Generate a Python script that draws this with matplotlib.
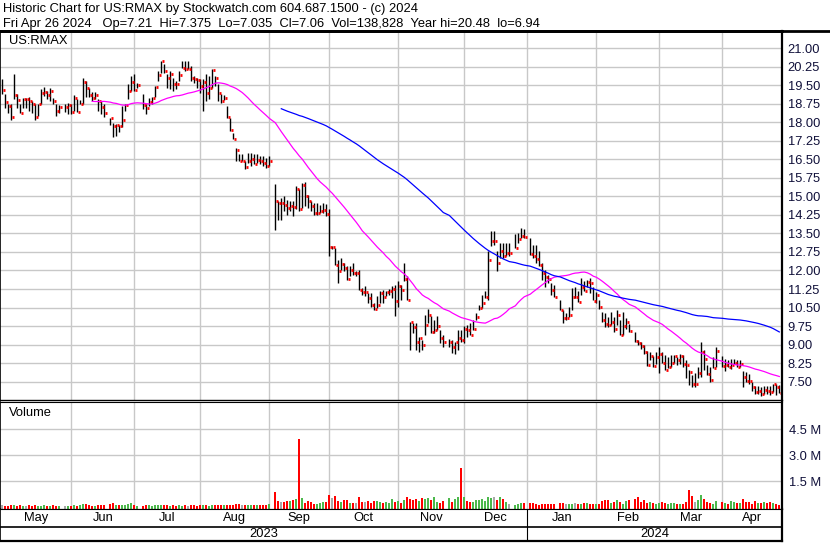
import numpy as np
import pandas as pd
import matplotlib
matplotlib.use("Agg")
import matplotlib.pyplot as plt
from matplotlib.lines import Line2D

plt.rcParams['font.family'] = ['Liberation Sans', 'DejaVu Sans']

# US market holidays inside the range (the chart leaves an empty slot for them)
holidays = ['2023-05-29', '2023-06-19', '2023-07-04', '2023-09-04', '2023-11-23',
            '2023-12-25', '2024-01-01', '2024-01-15', '2024-02-19', '2024-03-29']

# daily bars, one line per month (May 2023 .. Apr 2024)
high = [
    19.74, 19.16, 18.72, 18.72, 19.94, 19.13, 18.72, 18.99, 18.99, 19.02, 18.86, 18.72, 18.75, 19.33, 19.43, 19.26, 19.40, 18.99, 18.72, 18.68, 18.72, 18.79,
    18.72, 19.09, 18.93, 18.88, 19.80, 19.67, 19.40, 19.24, 19.24, 18.93, 18.86, 18.72, 18.18, 17.98, 17.91, 17.87, 18.67, 18.75, 19.55, 19.87, 19.94,
    19.60, 19.16, 18.72, 18.99, 19.02, 19.47, 20.07, 20.48, 20.37, 19.94, 20.07, 19.80, 19.67, 20.07, 20.48, 20.48, 20.48, 20.28, 19.87, 19.80,
    19.74, 19.76, 19.94, 19.87, 20.14, 19.87, 19.53, 19.16, 19.10, 18.66, 18.18, 17.57, 16.97, 16.70, 16.70, 16.43, 16.76, 16.76, 16.70, 16.70, 16.63, 16.63, 16.56,
    16.63, 15.48, 14.81, 14.95, 15.01, 14.87, 14.81, 14.83, 15.42, 15.28, 15.55, 15.59, 15.07, 14.81, 14.74, 14.74, 14.67, 14.74, 14.70, 14.47,
    13.00, 12.90, 12.44, 12.51, 12.30, 12.17, 12.17, 12.30, 11.96, 12.03, 11.29, 11.36, 11.08, 11.08, 10.68, 10.95, 11.15, 11.22, 11.15, 11.25, 11.36, 11.43,
    11.56, 11.43, 12.30, 11.76, 9.93, 9.87, 9.87, 9.32, 9.19, 10.20, 10.43, 10.14, 10.00, 10.14, 9.60, 9.39, 9.22, 9.19, 9.12, 9.60, 9.60,
    9.76, 9.79, 9.86, 10.00, 10.27, 10.61, 11.01, 11.15, 12.78, 13.60, 13.60, 12.78, 13.12, 13.12, 13.12, 13.12, 13.46, 13.53, 13.73, 13.66,
    13.32, 13.05, 13.05, 12.78, 12.30, 12.03, 11.83, 11.49, 11.42, 10.81, 10.40, 10.27, 10.54, 11.28, 11.35, 11.15, 11.69, 11.56, 11.62, 11.69, 11.35,
    11.14, 10.80, 10.33, 10.26, 10.12, 10.33, 10.12, 10.39, 9.99, 10.33, 10.08, 9.85, 9.51, 9.17, 9.10, 8.97, 8.76, 8.70, 8.56, 8.70,
    8.89, 8.72, 8.58, 8.51, 8.58, 8.58, 8.51, 8.62, 8.58, 8.38, 7.97, 7.77, 7.84, 8.11, 9.12, 8.78, 8.18, 8.11, 8.51, 8.92,
    8.56, 8.42, 8.36, 8.42, 8.42, 8.36, 8.36, 7.95, 7.88, 7.81, 7.47, 7.34, 7.34, 7.27, 7.34, 7.34, 7.34, 7.40, 7.40, 7.375,
]
low = [
    19.16, 18.59, 18.39, 18.09, 18.95, 18.59, 18.37, 18.59, 18.59, 18.45, 18.39, 18.09, 18.25, 18.72, 19.06, 18.93, 18.86, 18.72, 18.25, 18.37, 18.43, 18.32,
    18.35, 18.45, 18.40, 18.72, 18.72, 19.02, 19.02, 18.86, 18.93, 18.45, 18.35, 18.20, 17.89, 17.42, 17.45, 17.60, 17.80, 18.45, 18.94, 19.26, 19.26,
    19.40, 18.52, 18.32, 18.66, 18.75, 19.02, 19.67, 20.01, 20.01, 19.40, 19.33, 19.26, 19.33, 19.67, 20.18, 20.07, 20.14, 19.67, 19.60, 19.40,
    19.20, 18.45, 18.86, 18.93, 19.40, 19.47, 18.86, 18.79, 18.90, 18.18, 17.64, 17.34, 16.43, 16.43, 16.43, 16.09, 16.36, 16.22, 16.29, 16.36, 16.29, 16.22, 16.16,
    16.22, 13.62, 14.06, 14.06, 14.40, 14.26, 14.40, 14.20, 14.47, 14.40, 14.54, 14.60, 14.54, 14.40, 14.26, 14.26, 14.33, 14.33, 14.20, 12.60,
    12.85, 12.23, 11.49, 12.03, 11.96, 11.63, 11.77, 11.83, 11.79, 11.22, 11.02, 10.95, 10.68, 10.54, 10.41, 10.48, 10.68, 10.68, 10.95, 11.02, 10.88, 10.14,
    10.54, 10.82, 11.56, 10.82, 8.78, 9.46, 8.78, 8.71, 8.78, 9.39, 9.87, 9.46, 9.46, 9.60, 9.06, 8.92, 8.92, 8.65, 8.62, 8.78, 9.12,
    9.05, 9.31, 9.41, 9.59, 10.00, 10.40, 10.47, 10.88, 10.81, 12.98, 13.05, 11.96, 12.51, 12.51, 12.58, 12.58, 12.92, 13.12, 13.32, 13.32,
    12.64, 12.51, 12.30, 12.17, 11.62, 11.35, 11.49, 11.01, 10.94, 10.40, 9.86, 10.00, 10.13, 10.40, 10.88, 10.74, 11.01, 11.15, 11.35, 11.08, 10.81,
    10.67, 10.46, 9.92, 9.72, 9.72, 9.78, 9.51, 9.78, 9.38, 9.38, 9.65, 9.51, 9.10, 8.97, 8.83, 8.63, 8.15, 8.36, 8.08, 8.22,
    7.85, 8.24, 7.97, 8.04, 8.11, 8.24, 8.18, 8.22, 8.11, 7.64, 7.36, 7.30, 7.30, 7.64, 7.70, 7.97, 7.77, 7.50, 8.04, 8.11,
    8.08, 7.95, 8.08, 8.02, 8.22, 8.08, 8.08, 7.27, 7.47, 7.40, 7.13, 7.00, 7.00, 6.94, 7.00, 7.00, 6.96, 7.07, 6.97, 7.035,
]
close = [
    19.30, 18.80, 18.64, 18.21, 19.10, 18.88, 18.37, 18.95, 18.95, 18.86, 18.72, 18.21, 18.72, 19.18, 19.22, 19.09, 19.25, 18.84, 18.45, 18.61, 18.61, 18.68,
    18.41, 18.98, 18.40, 18.74, 19.63, 19.40, 19.10, 18.98, 19.10, 18.86, 18.61, 18.37, 18.16, 17.84, 17.88, 17.84, 18.09, 18.70, 19.26, 19.64, 19.30,
    19.51, 18.70, 18.56, 18.80, 18.99, 19.43, 19.91, 20.48, 20.07, 19.78, 19.94, 19.56, 19.53, 19.91, 20.18, 20.14, 20.14, 19.78, 19.74, 19.70,
    19.47, 19.64, 19.20, 19.40, 20.11, 19.78, 19.20, 18.86, 18.97, 18.21, 17.67, 17.34, 16.86, 16.45, 16.45, 16.18, 16.43, 16.53, 16.32, 16.49, 16.45, 16.34, 16.21,
    16.43, 14.83, 14.72, 14.72, 14.64, 14.51, 14.60, 14.56, 15.28, 14.47, 15.46, 15.00, 14.81, 14.60, 14.32, 14.33, 14.40, 14.43, 14.27, 12.94,
    12.94, 12.23, 11.99, 12.28, 12.10, 11.64, 12.00, 11.88, 11.88, 11.22, 11.11, 11.11, 10.88, 10.60, 10.46, 10.62, 11.10, 10.91, 11.11, 11.15, 11.25, 10.75,
    11.36, 11.22, 11.66, 10.79, 9.90, 9.73, 9.10, 9.28, 9.00, 9.81, 10.18, 9.53, 9.60, 9.77, 9.28, 9.10, 9.12, 8.92, 9.10, 9.25, 9.19,
    9.62, 9.59, 9.41, 9.65, 10.13, 10.47, 10.67, 10.92, 12.41, 13.19, 13.19, 12.30, 12.78, 12.58, 12.71, 12.71, 12.92, 13.26, 13.39, 13.36,
    12.68, 12.58, 12.47, 12.24, 11.90, 11.75, 11.65, 11.20, 10.94, 10.40, 10.06, 10.06, 10.20, 10.94, 10.94, 10.74, 11.35, 11.19, 11.53, 11.49, 10.77,
    10.99, 10.53, 9.99, 9.85, 9.81, 9.92, 9.65, 10.18, 9.38, 9.76, 9.92, 9.55, 9.14, 9.06, 8.93, 8.70, 8.19, 8.56, 8.13, 8.49,
    8.63, 8.27, 7.97, 8.11, 8.24, 8.54, 8.38, 8.54, 8.22, 8.18, 7.91, 7.41, 7.41, 7.84, 8.72, 8.41, 7.81, 7.57, 8.04, 8.76,
    8.15, 8.18, 8.08, 8.18, 8.27, 8.08, 8.22, 7.68, 7.54, 7.51, 7.30, 7.07, 7.11, 7.02, 7.16, 7.11, 7.07, 7.40, 7.27, 7.06,
]
# volume in millions of shares
volume = [
    0.10, 0.08, 0.07, 0.12, 0.09, 0.08, 0.10, 0.07, 0.08, 0.09, 0.07, 0.10, 0.08, 0.07, 0.09, 0.08, 0.06, 0.09, 0.07, 0.05, 0.08, 0.06,
    0.07, 0.12, 0.08, 0.10, 0.18, 0.15, 0.10, 0.08, 0.06, 0.09, 0.13, 0.10, 0.16, 0.22, 0.11, 0.09, 0.14, 0.12, 0.20, 0.25, 0.12,
    0.05, 0.08, 0.10, 0.09, 0.08, 0.12, 0.10, 0.11, 0.09, 0.10, 0.08, 0.09, 0.07, 0.10, 0.08, 0.09, 0.08, 0.10, 0.09, 0.08,
    0.10, 0.09, 0.12, 0.08, 0.11, 0.10, 0.09, 0.12, 0.10, 0.11, 0.14, 0.12, 0.15, 0.18, 0.14, 0.12, 0.10, 0.12, 0.11, 0.13, 0.12, 0.14, 0.13,
    0.15, 0.85, 0.35, 0.30, 0.28, 0.32, 0.35, 0.40, 0.45, 3.92, 0.50, 0.25, 0.35, 0.28, 0.20, 0.18, 0.22, 0.30, 0.28, 0.70,
    0.50, 0.65, 0.35, 0.30, 0.42, 0.38, 0.25, 0.22, 0.25, 0.60, 0.28, 0.30, 0.35, 0.25, 0.32, 0.35, 0.30, 0.22, 0.30, 0.25, 0.45, 0.30,
    0.35, 0.25, 0.42, 0.55, 0.45, 0.38, 0.45, 0.35, 0.50, 0.45, 0.52, 0.38, 0.55, 0.30, 0.22, 0.35, 0.50, 0.30, 0.45, 0.60, 2.25,
    0.55, 0.35, 0.30, 0.28, 0.40, 0.38, 0.45, 0.35, 0.55, 0.50, 0.60, 0.40, 0.55, 0.45, 0.30, 0.20, 0.12, 0.15, 0.22, 0.25,
    0.25, 0.22, 0.15, 0.12, 0.18, 0.15, 0.20, 0.18, 0.15, 0.22, 0.25, 0.18, 0.20, 0.15, 0.22, 0.18, 0.20, 0.25, 0.22, 0.20, 0.18,
    0.18, 0.20, 0.35, 0.40, 0.38, 0.25, 0.30, 0.42, 0.28, 0.20, 0.35, 0.40, 0.45, 0.55, 0.30, 0.38, 0.25, 0.30, 0.22, 0.20,
    0.25, 0.30, 0.22, 0.18, 0.25, 0.22, 0.20, 0.15, 0.18, 0.30, 1.00, 0.65, 0.30, 0.40, 0.70, 0.45, 0.30, 0.25, 0.20, 0.35,
    0.30, 0.25, 0.20, 0.35, 0.28, 0.22, 0.25, 0.45, 0.30, 0.28, 0.20, 0.35, 0.25, 0.22, 0.30, 0.25, 0.28, 0.22, 0.18, 0.139,
]

month_names = ['May', 'Jun', 'Jul', 'Aug', 'Sep', 'Oct', 'Nov', 'Dec', 'Jan', 'Feb', 'Mar', 'Apr']
# weekday slot where each month gridline sits (Jun .. Apr)
month_edges = [23, 44, 66, 89, 109, 132, 154, 175, 198, 219, 240]
year_names = ['2023', '2024']

title1 = "Historic Chart for US:RMAX by Stockwatch.com 604.687.1500 - (c) 2024"
title2 = ("Fri Apr 26 2024   Op=7.21  Hi=7.375  Lo=7.035  Cl=7.06  "
          "Vol=138,828  Year hi=20.48  lo=6.94")

# x position = weekday slot, holidays stay empty
weekdays = pd.bdate_range('2023-05-01', '2024-04-26')
days = weekdays[~weekdays.isin(pd.to_datetime(holidays))]
x = np.searchsorted(weekdays.values, days.values).astype(float)

c = pd.Series(close)
ma30 = c.rolling(30).mean()
ma90 = c.rolling(90).mean()

W, H = 830, 543
fig = plt.figure(figsize=(W / 100, H / 100), dpi=100)


def box(l, t, r, b):
    return [l / W, 1 - b / H, (r - l) / W, (b - t) / H]


xlim = (-0.767, 259.9)
grid_c = '#c8c8c8'
lab_c = '#10103a'
fs = 9.3

# ---- price panel
ax = fig.add_axes(box(0, 31, 782, 400))
ax.set_xlim(*xlim)
ax.set_ylim(6.76, 21.69)
ax.set_yticks(np.arange(7.5, 21.01, 0.75))
ax.set_yticklabels([f"{v:.2f}" for v in np.arange(7.5, 21.01, 0.75)])
ax.set_xticks(month_edges)
ax.set_xticklabels([])
ax.yaxis.tick_right()
ax.tick_params(length=0)
ax.tick_params(axis='y', pad=4, labelsize=fs, labelcolor=lab_c)
ax.grid(True, color=grid_c, lw=1.0)
ax.set_axisbelow(True)

ax.vlines(x, low, high, color='black', lw=1.0)
ax.hlines(close, x + 0.2, x + 0.9, color='#ff0000', lw=2.0)
ax.plot(x, ma30, color='#ff00ff', lw=0.9)
ax.plot(x, ma90, color='#0000ff', lw=0.9)

for s in ax.spines.values():
    s.set_color('black')
ax.spines['top'].set_linewidth(2)
ax.spines['right'].set_linewidth(1.6)
ax.spines['left'].set_linewidth(1.2)
ax.spines['bottom'].set_linewidth(1)

# ---- volume panel
vmin, vmax = -0.115, 6.06
axv = fig.add_axes(box(0, 402, 782, 509))
axv.set_xlim(*xlim)
axv.set_ylim(vmin, vmax)
diff = np.diff(np.r_[close[0], close])
vcol = np.where(diff > 0, '#4cb84c', np.where(diff < 0, '#ff0000', '#a8a8a8'))
axv.bar(x, np.array(volume) - vmin, bottom=vmin, width=0.62, color=vcol, linewidth=0)
axv.set_yticks([1.5, 3.0, 4.5])
axv.set_yticklabels(['1.5 M', '3.0 M', '4.5 M'])
axv.set_xticks(month_edges)
axv.set_xticklabels([])
axv.yaxis.tick_right()
axv.tick_params(length=0)
axv.tick_params(axis='y', pad=5, labelsize=fs, labelcolor=lab_c)
axv.grid(True, color=grid_c, lw=1.0)
axv.set_axisbelow(True)
for s in axv.spines.values():
    s.set_color('black')
axv.spines['right'].set_linewidth(1.6)
axv.spines['left'].set_linewidth(1.2)

# ---- month / year strip
axm = fig.add_axes(box(0, 509, 782, 541))
axm.set_xlim(*xlim)
axm.set_ylim(0, 1)
axm.set_xticks([])
axm.set_yticks([])
split = 14 / 32
axm.axhline(split, color='black', lw=1.2)
axm.plot([month_edges[7]] * 2, [0, 1], color='black', lw=0.8)
edges = [xlim[0]] + month_edges + [xlim[1]]
for i, name in enumerate(month_names):
    axm.text((edges[i] + edges[i + 1]) / 2, (split + 1) / 2, name,
             ha='center', va='center', fontsize=fs)
axm.text((xlim[0] + month_edges[7]) / 2, split / 2, year_names[0],
         ha='center', va='center', fontsize=fs)
axm.text((month_edges[7] + xlim[1]) / 2, split / 2, year_names[1],
         ha='center', va='center', fontsize=fs)
for s in axm.spines.values():
    s.set_color('black')
axm.spines['right'].set_linewidth(1.6)
axm.spines['left'].set_linewidth(1.2)
axm.spines['bottom'].set_linewidth(1.6)

# header
fig.add_artist(Line2D([0, 1], [1 - 31 / H] * 2, color='black', lw=2))
fig.text(3 / W, 1 - 9 / H, title1, ha='left', va='center', fontsize=fs)
fig.text(3 / W, 1 - 24 / H, title2, ha='left', va='center', fontsize=fs)
fig.text(9 / W, 1 - 41 / H, 'US:RMAX', ha='left', va='center', fontsize=fs)
fig.text(9 / W, 1 - 413 / H, 'Volume', ha='left', va='center', fontsize=fs)

fig.savefig('out.png', dpi=100)
